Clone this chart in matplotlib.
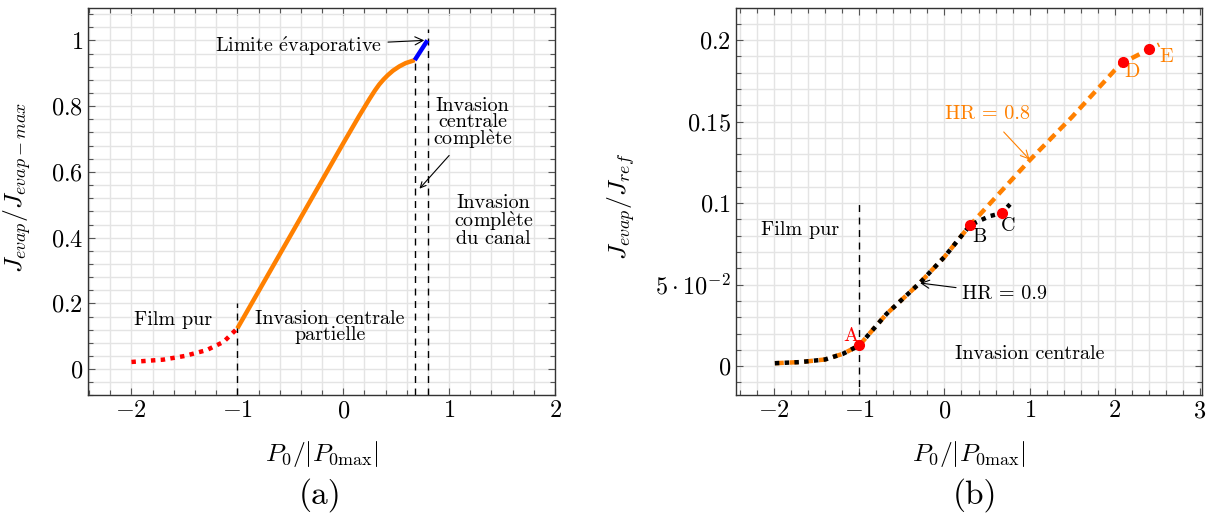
import numpy as np
import matplotlib
matplotlib.use("Agg")
import matplotlib.pyplot as plt
from matplotlib.ticker import MultipleLocator, FixedLocator, FixedFormatter

plt.rcParams['font.family'] = ['cmr10', 'DejaVu Serif']
plt.rcParams['mathtext.fontset'] = 'cm'
plt.rcParams['axes.formatter.use_mathtext'] = True
plt.rcParams['axes.unicode_minus'] = True

ORANGE = '#ff8000'
E_ACUTE = r'$\acute{\mathrm{e}}$'
E_GRAVE = r'$\grave{\mathrm{e}}$'

# ---- panel (a) data ----
film_x = [-2.0, -1.70, -1.50, -1.29, -1.13, -1.0]
film_y = [0.022, 0.029, 0.040, 0.058, 0.083, 0.124]
part_x = [-1.0, 0.0, 0.15, 0.25, 0.30, 0.34, 0.38, 0.42, 0.47, 0.53, 0.59, 0.675]
part_y = [0.124, 0.687, 0.77, 0.823, 0.848, 0.866, 0.881, 0.894, 0.908, 0.921, 0.931, 0.940]
lim_x = [0.675, 0.795]
lim_y = [0.940, 1.0]
vlines_a = [(-1.0, 0.2), (0.675, 0.940), (0.80, 1.035)]

# ---- panel (b) data ----
hr9_x = [-1.99, -1.69, -1.40, -1.19, -1.0, -0.68, -0.29, 0.0, 0.30, 0.42, 0.53, 0.673, 0.77]
hr9_y = [0.0018, 0.0025, 0.0041, 0.0076, 0.0127, 0.0320, 0.0510, 0.0670, 0.0864, 0.0894, 0.092, 0.0939, 0.0993]
hr8_x = [-1.99, -1.69, -1.40, -1.19, -1.0, -0.68, -0.29, 0.0, 0.30, 1.0, 1.5, 2.0, 2.10, 2.40, 2.52]
hr8_y = [0.0018, 0.0025, 0.0041, 0.0076, 0.0127, 0.0320, 0.0510, 0.0670, 0.0864, 0.1263, 0.153, 0.1816, 0.1863, 0.1943, 0.1973]
pts_names = ['A', 'B', 'C', 'D', 'E']
pts_x = [-1.0, 0.30, 0.673, 2.10, 2.40]
pts_y = [0.0127, 0.0864, 0.0939, 0.1863, 0.1943]
b_yticks = [0, 0.05, 0.1, 0.15, 0.2]
b_ylabels = [r'$0$', r'$5\cdot10^{-2}$', r'$0.1$', r'$0.15$', r'$0.2$']

fig = plt.figure(figsize=(12.14, 5.18), dpi=100)
ax1 = fig.add_axes([0.0725, 0.2365, 0.3847, 0.749])
ax2 = fig.add_axes([0.606, 0.2365, 0.3839, 0.749])


def style(ax):
    ax.grid(True, which='both', color='#e4e4e4', lw=1.0, zorder=0)
    ax.set_axisbelow(True)
    ax.tick_params(which='both', direction='in', top=True, right=True,
                   color='#555555', labelsize=17.5)
    ax.tick_params(which='major', length=5, width=0.8)
    ax.tick_params(which='minor', length=3.5, width=0.8)
    for s in ax.spines.values():
        s.set_color('#333333')
        s.set_linewidth(1.0)


# ---- (a) ----
ax = ax1
style(ax)
ax.plot(film_x, film_y, color='red', lw=3.2, ls=(0, (1, 1.2)), zorder=3)
ax.plot(part_x, part_y, color=ORANGE, lw=3.2, solid_capstyle='butt',
        solid_joinstyle='round', zorder=3)
ax.plot(lim_x, lim_y, color='blue', lw=3.2, solid_capstyle='butt', zorder=3)
for xv, ytop in vlines_a:
    ax.plot([xv, xv], [-0.08, ytop], color='black', lw=1.0, ls=(0, (5, 4)), zorder=2)
ax.set_xlim(-2.41, 2.0)
ax.set_ylim(-0.08, 1.1)
ax.xaxis.set_major_locator(MultipleLocator(1))
ax.xaxis.set_minor_locator(MultipleLocator(0.2))
ax.yaxis.set_minor_locator(MultipleLocator(0.04))
ax.set_yticks([0, 0.2, 0.4, 0.6, 0.8, 1.0])
ax.set_yticklabels([r'$0$', r'$0.2$', r'$0.4$', r'$0.6$', r'$0.8$', r'$1$'])
ax.set_xlabel(r'$P_0/|P_{0\mathrm{max}}|$', fontsize=18.5)
ax.set_ylabel(r'$J_{evap}/J_{evap-max}$', fontsize=18.5)
ax.xaxis.set_label_coords(0.5, -0.112)
ax.yaxis.set_label_coords(-0.118, 0.537)

fs = 14.5
ax.text(-1.61, 0.149, 'Film pur', fontsize=fs, ha='center', va='center')
ax.text(-0.126, 0.128, 'Invasion centrale\npartielle', fontsize=fs, ha='center',
        va='center', linespacing=0.85)
ax.text(1.22, 0.745, 'Invasion\ncentrale\ncompl' + E_GRAVE + 'te', fontsize=fs,
        ha='center', va='center', linespacing=0.85)
ax.text(1.42, 0.45, 'Invasion\ncompl' + E_GRAVE + 'te\ndu canal', fontsize=fs,
        ha='center', va='center', linespacing=0.85)
ax.annotate('Limite ' + E_ACUTE + 'vaporative', xy=(0.765, 1.0), xytext=(0.37, 0.982),
            fontsize=fs, ha='right', va='center',
            arrowprops=dict(arrowstyle='->', color='black', lw=0.8,
                            shrinkA=2, shrinkB=0))
ax.annotate('', xy=(0.72, 0.549), xytext=(1.0, 0.65),
            arrowprops=dict(arrowstyle='->', color='black', lw=0.8,
                            shrinkA=0, shrinkB=0))

# ---- (b) ----
ax = ax2
style(ax)
ax.plot(hr8_x, hr8_y, color=ORANGE, lw=3.2, ls=(0, (2.0, 1.3)), zorder=3)
ax.plot(hr9_x, hr9_y, color='black', lw=3.2, ls=(0, (1, 1.2)), zorder=4)
ax.plot([-1, -1], [-0.02, 0.1], color='black', lw=1.0, ls=(0, (5, 4)), zorder=2)
ax.plot(pts_x, pts_y, 'o', color='red', ms=7, zorder=5)
ax.set_xlim(-2.45, 3.02)
ax.set_ylim(-0.018, 0.22)
ax.xaxis.set_major_locator(MultipleLocator(1))
ax.xaxis.set_minor_locator(MultipleLocator(0.2))
ax.yaxis.set_major_locator(FixedLocator(b_yticks))
ax.yaxis.set_major_formatter(FixedFormatter(b_ylabels))
ax.yaxis.set_minor_locator(MultipleLocator(0.01))
ax.set_xlabel(r'$P_0/|P_{0\mathrm{max}}|$', fontsize=18.5)
ax.set_ylabel(r'$J_{evap}/J_{ref}$', fontsize=18.5)
ax.xaxis.set_label_coords(0.5, -0.112)
ax.yaxis.set_label_coords(-0.212, 0.486)

lab_off = {'A': (-0.10, 0.006, 'red'), 'B': (0.11, -0.007, 'black'),
           'C': (0.08, -0.008, 'black'), 'D': (0.10, -0.006, ORANGE),
           'E': (0.20, -0.0045, ORANGE)}
for n, xv, yv in zip(pts_names, pts_x, pts_y):
    dx, dy, c = lab_off[n]
    ax.text(xv + dx, yv + dy, n, color=c, fontsize=fs, ha='center', va='center')

ax.text(-1.70, 0.0837, 'Film pur', fontsize=fs, ha='center', va='center')
ax.text(1.0, 0.0075, 'Invasion centrale', fontsize=fs, ha='center', va='center')
ax.annotate('HR = 0.8', xy=(1.0, 0.1267), xytext=(0.5, 0.1546), color=ORANGE,
            fontsize=fs, ha='center', va='center',
            arrowprops=dict(arrowstyle='->', color=ORANGE, lw=0.8,
                            shrinkA=6, shrinkB=0))
ax.annotate('HR = 0.9', xy=(-0.286, 0.051), xytext=(0.70, 0.0444),
            fontsize=fs, ha='center', va='center',
            arrowprops=dict(arrowstyle='->', color='black', lw=0.8,
                            shrinkA=2, shrinkB=0))

fig.text(0.2636, 0.044, '(a)', fontsize=24, ha='center', va='center')
fig.text(0.803, 0.044, '(b)', fontsize=24, ha='center', va='center')

fig.savefig('out.png', dpi=100)
